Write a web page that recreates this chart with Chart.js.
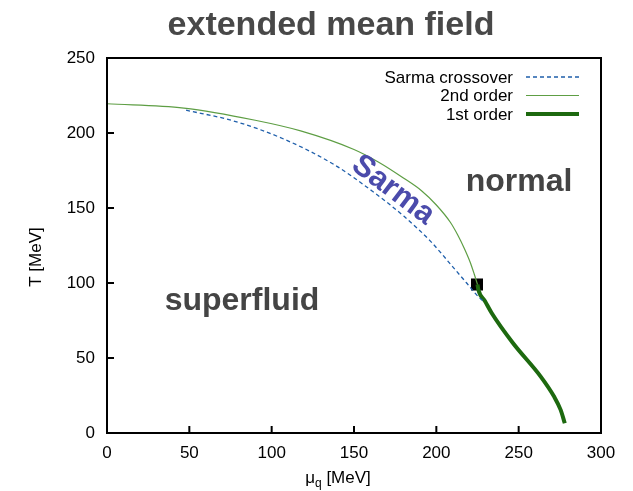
<!DOCTYPE html>
<html>
<head>
<meta charset="utf-8">
<script src="https://cdn.jsdelivr.net/npm/chart.js@4/dist/chart.umd.min.js"></script>
<style>
  html, body { margin: 0; padding: 0; background: #fff; }
  #wrap { width: 633px; height: 491px; }
</style>
</head>
<body>
<div id="wrap"><canvas id="chart"></canvas></div>
<script>
// data: mu_q [MeV] vs T [MeV]
const sarmaMu = [48, 77, 107.5, 137.8, 161, 180.2, 196.4, 210.5, 218, 225.3, 228.7];
const sarmaT  = [215.2, 208, 195.9, 179, 161.3, 144.6, 127.9, 110.1, 100.5, 91.1, 87.8];

const secondMu = [0, 46.7, 90, 117.6, 150, 165, 180, 191, 200, 208.5, 213, 217, 220.5, 223, 225];
const secondT  = [219.5, 216.6, 208.5, 201.4, 189, 180.5, 170, 161.5, 152, 140.5, 132, 123, 114, 106, 99];

const firstMu = [225, 225.5, 229.5, 233.6, 246.5, 263.4, 271.5, 275.5, 278];
const firstT  = [99, 95.6, 88, 80, 60, 37.6, 24.3, 15.4, 6.5];

const tcpMu = [224.7];
const tcpT  = [99];

const xTicks = [0, 50, 100, 150, 200, 250, 300];
const yTicks = [0, 50, 100, 150, 200, 250];

const toPts = (xs, ys) => xs.map((x, i) => ({ x: x, y: ys[i] }));

const FONT = '"Liberation Sans", Arial, Helvetica, sans-serif';

// gnuplot-like frame, inward ticks, labels, legend
const decor = {
  id: 'decor',
  afterDraw(chart) {
    const ctx = chart.ctx;
    const a = chart.chartArea;
    const xs = chart.scales.x, ys = chart.scales.y;
    ctx.save();

    // frame
    ctx.strokeStyle = '#000';
    ctx.lineWidth = 2;
    ctx.strokeRect(a.left, a.top, a.right - a.left, a.bottom - a.top);

    // inward ticks on left and bottom
    ctx.beginPath();
    xTicks.forEach(v => {
      const px = xs.getPixelForValue(v);
      ctx.moveTo(px, a.bottom);
      ctx.lineTo(px, a.bottom - 7);
    });
    yTicks.forEach(v => {
      const py = ys.getPixelForValue(v);
      ctx.moveTo(a.left, py);
      ctx.lineTo(a.left + 7, py);
    });
    ctx.stroke();

    // title
    ctx.fillStyle = '#484848';
    ctx.font = 'bold 34px ' + FONT;
    ctx.textAlign = 'center';
    ctx.textBaseline = 'alphabetic';
    ctx.fillText('extended mean field', 331, 35);

    // region labels
    ctx.fillStyle = '#444';
    ctx.font = 'bold 32px ' + FONT;
    ctx.fillText('superfluid', 242, 310);
    ctx.fillText('normal', 519, 191);

    ctx.save();
    ctx.translate(393, 190);
    ctx.rotate(37 * Math.PI / 180);
    ctx.fillStyle = '#4b4bab';
    ctx.font = 'bold 31px ' + FONT;
    ctx.textBaseline = 'middle';
    ctx.fillText('Sarma', 0, 0);
    ctx.restore();

    // axis titles
    ctx.fillStyle = '#000';
    ctx.font = '17px ' + FONT;
    ctx.save();
    ctx.translate(36, 257);
    ctx.rotate(-Math.PI / 2);
    ctx.textAlign = 'center';
    ctx.textBaseline = 'middle';
    ctx.fillText('T [MeV]', 0, 0);
    ctx.restore();

    ctx.textAlign = 'left';
    ctx.textBaseline = 'alphabetic';
    const mu = '\u03bc';
    const rest = ' [MeV]';
    ctx.font = '17px ' + FONT;
    const wMu = ctx.measureText(mu).width;
    ctx.font = '12px ' + FONT;
    const wQ = ctx.measureText('q').width;
    ctx.font = '17px ' + FONT;
    const wRest = ctx.measureText(rest).width;
    let x0 = 338 - (wMu + wQ + wRest) / 2;
    ctx.fillText(mu, x0, 483);
    ctx.font = '12px ' + FONT;
    ctx.fillText('q', x0 + wMu, 487);
    ctx.font = '17px ' + FONT;
    ctx.fillText(rest, x0 + wMu + wQ, 483);

    // legend: text right aligned, sample line on the right
    ctx.font = '17px ' + FONT;
    ctx.textAlign = 'right';
    ctx.textBaseline = 'middle';
    chart.data.datasets.forEach((ds, i) => {
      if (ds.hideInLegend) return;
      const yy = 77 + i * 18.5;
      ctx.fillStyle = '#000';
      ctx.fillText(ds.label, 513, yy + 1);
      ctx.strokeStyle = ds.borderColor;
      ctx.lineWidth = ds.borderWidth;
      ctx.setLineDash(ds.borderDash || []);
      ctx.beginPath();
      ctx.moveTo(526, yy);
      ctx.lineTo(579, yy);
      ctx.stroke();
      ctx.setLineDash([]);
    });

    ctx.restore();
  }
};

new Chart(document.getElementById('chart'), {
  type: 'scatter',
  data: {
    datasets: [
      {
        label: 'Sarma crossover',
        data: toPts(sarmaMu, sarmaT),
        showLine: true,
        cubicInterpolationMode: 'monotone',
        borderColor: '#1f5fab',
        borderWidth: 1.3,
        borderDash: [4, 3],
        pointRadius: 0
      },
      {
        label: '2nd order',
        data: toPts(secondMu, secondT),
        showLine: true,
        cubicInterpolationMode: 'monotone',
        borderColor: '#5e9e44',
        borderWidth: 1.2,
        pointRadius: 0
      },
      {
        label: '1st order',
        data: toPts(firstMu, firstT),
        showLine: true,
        cubicInterpolationMode: 'monotone',
        borderColor: '#1d690f',
        borderWidth: 4,
        pointRadius: 0
      },
      {
        label: 'tricritical point',
        hideInLegend: true,
        data: toPts(tcpMu, tcpT),
        pointStyle: 'rect',
        pointRadius: 8.5,
        backgroundColor: '#000',
        borderColor: '#000',
        borderWidth: 0
      }
    ]
  },
  options: {
    responsive: true,
    maintainAspectRatio: false,
    animation: false,
    layout: { padding: { left: 0, right: 32, top: 58, bottom: 0 } },
    plugins: {
      legend: { display: false },
      tooltip: { enabled: false }
    },
    scales: {
      x: {
        type: 'linear',
        min: 0,
        max: 300,
        afterFit: s => { s.height = 58; },
        afterBuildTicks: s => { s.ticks = xTicks.map(v => ({ value: v })); },
        grid: { display: false, drawTicks: false },
        border: { display: false },
        ticks: {
          color: '#000',
          padding: 10,
          font: { family: FONT, size: 17 }
        }
      },
      y: {
        type: 'linear',
        min: 0,
        max: 250,
        afterFit: s => { s.width = 107; },
        afterBuildTicks: s => { s.ticks = yTicks.map(v => ({ value: v })); },
        grid: { display: false, drawTicks: false },
        border: { display: false },
        ticks: {
          color: '#000',
          padding: 12,
          font: { family: FONT, size: 17 }
        }
      }
    }
  },
  plugins: [decor]
});
</script>
</body>
</html>
